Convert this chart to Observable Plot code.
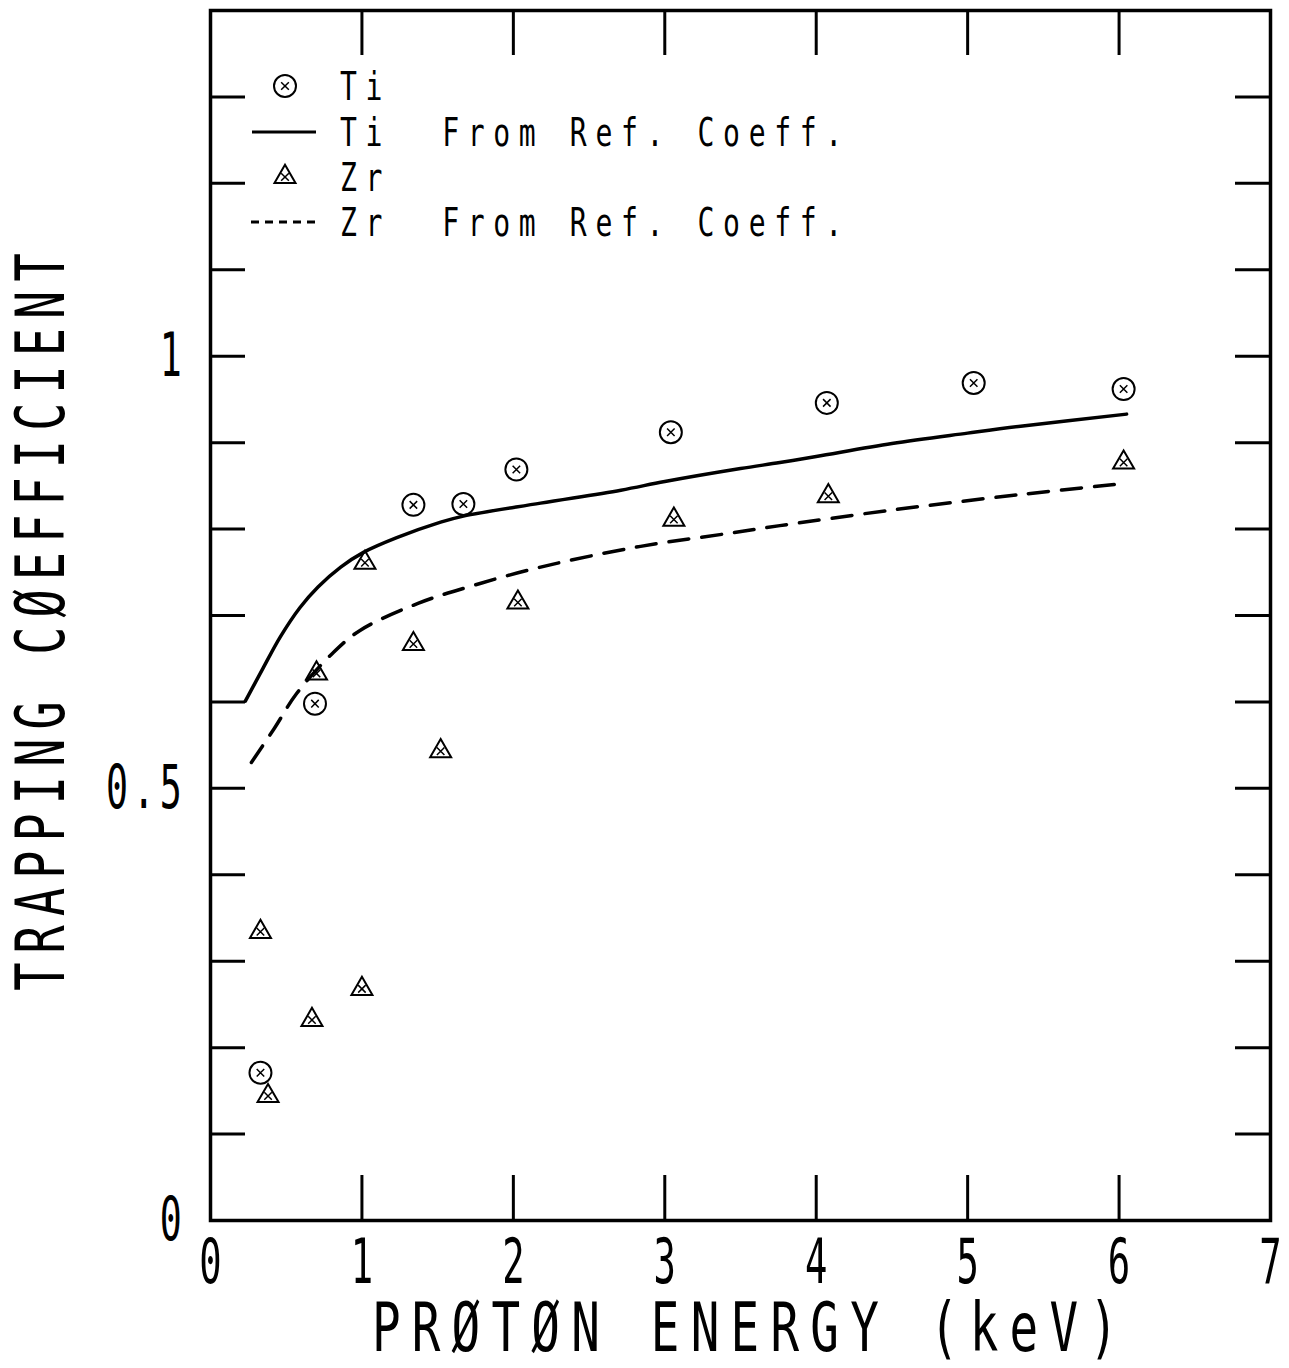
<!DOCTYPE html>
<html><head><meta charset="utf-8">
<script src="https://cdn.jsdelivr.net/npm/d3@7"></script>
<script src="https://cdn.jsdelivr.net/npm/@observablehq/plot@0.6"></script>
<style>html,body{margin:0;padding:0;background:#fff}#chart svg{display:block}</style>
</head><body><div id="chart"></div>
<script>
// ---- data ----
const tiEnergy = [0.33, 0.69, 1.34, 1.67, 2.02, 3.04, 4.07, 5.04, 6.03];
const tiTrap   = [0.171, 0.598, 0.828, 0.829, 0.869, 0.912, 0.946, 0.969, 0.962];
const zrEnergy = [0.33, 0.38, 0.67, 0.70, 1.00, 1.02, 1.34, 1.52, 2.03, 3.06, 4.08, 6.03];
const zrTrap   = [0.334, 0.144, 0.232, 0.633, 0.268, 0.761, 0.667, 0.543, 0.715, 0.811, 0.838, 0.877];
const tiFitEnergy = [0.23, 0.35, 0.46, 0.59, 0.71, 0.86, 1.01, 1.23, 1.52, 1.67, 2.18, 2.71, 3.0, 3.5, 3.76, 4.0, 4.5, 5.0, 5.35, 6.05];
const tiFitTrap   = [0.601, 0.640, 0.675, 0.709, 0.733, 0.756, 0.773, 0.790, 0.808, 0.815, 0.830, 0.845, 0.855, 0.870, 0.877, 0.884, 0.899, 0.911, 0.919, 0.933];
const zrFitEnergy = [0.27, 0.42, 0.57, 0.81, 0.99, 1.37, 1.74, 2.18, 2.84, 3.42, 3.76, 4.5, 5.35, 6.05];
const zrFitTrap   = [0.530, 0.569, 0.610, 0.657, 0.683, 0.714, 0.735, 0.756, 0.780, 0.795, 0.804, 0.822, 0.840, 0.853];

const xTicks = [0, 1, 2, 3, 4, 5, 6, 7];
const xTickLabels = ["0", "1", "2", "3", "4", "5", "6", "7"];
const yTicks = [0.1, 0.2, 0.3, 0.4, 0.5, 0.6, 0.7, 0.8, 0.9, 1.0, 1.1, 1.2, 1.3];
const yLabelValues = [0, 0.5, 1];
const yTickLabels = ["0", "0.5", "1"];
const legendLabels = ["Ti", "Ti  From Ref. Coeff.", "Zr", "Zr  From Ref. Coeff."];
const xTitle = "PRØTØN ENERGY (keV)";
const yTitle = "TRAPPING CØEFFICIENT";

// ---- layout ----
const W = 1289, H = 1368, mL = 210, mR = 19, mT = 10, mB = 148;
const fw = W - mL - mR, fh = H - mT - mB;
const FONT = "'DejaVu Sans Mono', 'Liberation Mono', monospace";
// distinct font sizes also identify the text groups for condensing
const FS_XT = 62, FS_YT = 61, FS_XTITLE = 68, FS_YTITLE = 67;

const ti = tiEnergy.map((e, i) => ({e, t: tiTrap[i]}));
const zr = zrEnergy.map((e, i) => ({e, t: zrTrap[i]}));
const tiFit = tiFitEnergy.map((e, i) => ({e, t: tiFitTrap[i]}));
const zrFit = zrFitEnergy.map((e, i) => ({e, t: zrFitTrap[i]}));

const svg = Plot.plot({
  width: W, height: H,
  marginLeft: mL, marginRight: mR, marginTop: mT, marginBottom: mB,
  style: {background: "#fff", color: "#000"},
  x: {domain: [0, 7], axis: null},
  y: {domain: [0, 1.4], axis: null},
  marks: [
    Plot.ruleX(xTicks, {x: d => d, insetTop: fh - 45, stroke: "#000", strokeWidth: 3}),
    Plot.ruleX(xTicks, {x: d => d, insetBottom: fh - 45, stroke: "#000", strokeWidth: 3}),
    Plot.ruleY(yTicks, {y: d => d, insetRight: fw - 35, stroke: "#000", strokeWidth: 3}),
    Plot.ruleY(yTicks, {y: d => d, insetLeft: fw - 35, stroke: "#000", strokeWidth: 3}),
    Plot.frame({stroke: "#000", strokeWidth: 3.5}),
    Plot.line(tiFit, {x: "e", y: "t", curve: "catmull-rom", stroke: "#000", strokeWidth: 3.5}),
    Plot.line(zrFit, {x: "e", y: "t", curve: "catmull-rom", stroke: "#000", strokeWidth: 3.5, strokeDasharray: "20,13"}),
    Plot.dot(ti, {x: "e", y: "t", symbol: "circle", r: 11, stroke: "#000", strokeWidth: 2, fill: "none"}),
    Plot.dot(ti, {x: "e", y: "t", symbol: "times", r: 3.5, stroke: "#000", strokeWidth: 1.5}),
    Plot.dot(zr, {x: "e", y: "t", symbol: "triangle", r: 7.8, stroke: "#000", strokeWidth: 2, fill: "none"}),
    Plot.dot(zr, {x: "e", y: "t", symbol: "times", r: 3.5, stroke: "#000", strokeWidth: 1.5}),
    Plot.text(xTickLabels, {x: (d, i) => xTicks[i], frameAnchor: "bottom", dy: 62, fontSize: FS_XT, fontFamily: FONT, fill: "#000"}),
    Plot.text(yTickLabels, {y: (d, i) => yLabelValues[i], frameAnchor: "left", dx: -24, textAnchor: "end", fontSize: FS_YT, fontFamily: FONT, fill: "#000"}),
    Plot.text([xTitle], {frameAnchor: "bottom", dy: 130, dx: 10, textAnchor: "middle", fontSize: FS_XTITLE, fontFamily: FONT, fill: "#000"}),
    Plot.text([yTitle], {frameAnchor: "left", dx: -168, dy: 2, rotate: -90, textAnchor: "middle", fontSize: FS_YTITLE, fontFamily: FONT, fill: "#000"})
  ]
});

function condense(fs, s, ls) {
  d3.select(svg).selectAll("text").each(function () {
    const own = this.getAttribute("font-size");
    const grp = this.parentNode && this.parentNode.getAttribute && this.parentNode.getAttribute("font-size");
    if (String(own) !== String(fs) && String(grp) !== String(fs)) return;
    const t = this.getAttribute("transform");
    if (t) {
      this.setAttribute("transform", t + ` scale(${s},1)`);
    } else {
      const x = +(this.getAttribute("x") || 0), y = +(this.getAttribute("y") || 0);
      this.setAttribute("transform", `translate(${x},${y}) scale(${s},1)`);
      this.setAttribute("x", 0); this.setAttribute("y", 0);
    }
    this.style.letterSpacing = ls + "px";
  });
}
condense(FS_XT, 0.6, 0);
condense(FS_YT, 0.6, 8);
condense(FS_XTITLE, 0.7, 16);
condense(FS_YTITLE, 0.7, 13);

// ---- legend (inside the frame, upper left) ----
const lg = d3.select(svg).append("g").attr("aria-label", "legend");
const rowY = [86, 132, 177, 222];
const symX = 285, textX = 340;
lg.append("circle").attr("cx", symX).attr("cy", rowY[0]).attr("r", 11).attr("fill", "none").attr("stroke", "#000").attr("stroke-width", 2);
lg.append("path").attr("d", d3.symbol(d3.symbolTimes, 40)()).attr("transform", `translate(${symX},${rowY[0]})`).attr("fill", "none").attr("stroke", "#000").attr("stroke-width", 1.5);
lg.append("line").attr("x1", 252).attr("x2", 316).attr("y1", rowY[1]).attr("y2", rowY[1]).attr("stroke", "#000").attr("stroke-width", 3);
lg.append("path").attr("d", d3.symbol(d3.symbolTriangle, Math.PI * 7.8 * 7.8)()).attr("transform", `translate(${symX},${rowY[2]})`).attr("fill", "none").attr("stroke", "#000").attr("stroke-width", 2);
lg.append("path").attr("d", d3.symbol(d3.symbolTimes, 40)()).attr("transform", `translate(${symX},${rowY[2]})`).attr("fill", "none").attr("stroke", "#000").attr("stroke-width", 1.5);
lg.append("line").attr("x1", 251).attr("x2", 318).attr("y1", rowY[3]).attr("y2", rowY[3]).attr("stroke", "#000").attr("stroke-width", 3).attr("stroke-dasharray", "8,6");
legendLabels.forEach((lab, i) => {
  lg.append("text").attr("transform", `translate(${textX},${rowY[i]}) scale(0.72,1)`)
    .attr("text-anchor", "start")
    .attr("dy", "0.36em").attr("font-family", FONT).attr("font-size", 39)
    .style("letter-spacing", "12px").style("white-space", "pre").attr("xml:space", "preserve")
    .attr("fill", "#000").text(lab);
});

document.getElementById("chart").appendChild(svg);
</script>
</body></html>
